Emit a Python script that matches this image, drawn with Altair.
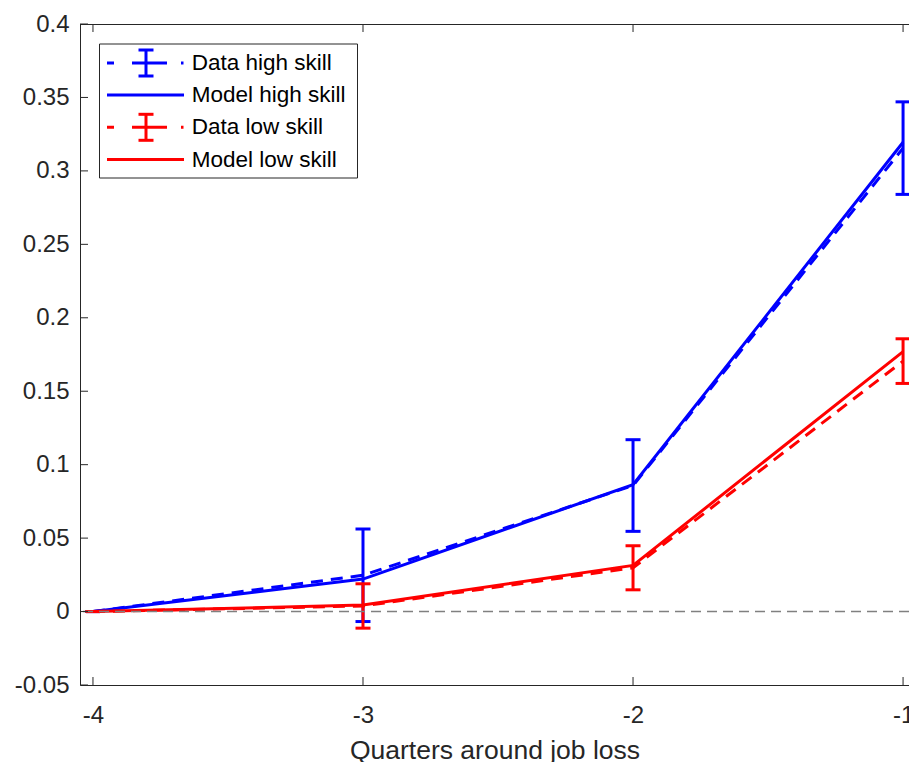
import altair as alt
import pandas as pd

# Quarters relative to job loss and the estimated effects
quarters = [-4, -3, -2, -1]

data_high = [0.0, 0.0247, 0.0858, 0.3155]
data_high_lo = [0.0, -0.0068, 0.0546, 0.2840]
data_high_hi = [0.0, 0.0562, 0.1170, 0.3470]
model_high = [0.0, 0.0221, 0.0864, 0.3195]

data_low = [0.0, 0.0038, 0.0298, 0.1705]
data_low_lo = [0.0, -0.0113, 0.0148, 0.1553]
data_low_hi = [0.0, 0.0189, 0.0448, 0.1857]
model_low = [0.0, 0.0044, 0.0314, 0.1770]

x_ticks = [-4, -3, -2, -1]
y_ticks = [-0.05, 0, 0.05, 0.1, 0.15, 0.2, 0.25, 0.3, 0.35, 0.4]
legend_labels = ["Data high skill", "Model high skill", "Data low skill", "Model low skill"]
x_title = "Quarters around job loss"

W, H = 829, 661
FONT = "Liberation Sans"
AX = "#262626"
BLUE, RED = "#0000ff", "#ff0000"
LW = 3
TICK_FS = 24

xs = alt.Scale(domain=[-4.048, -0.978], nice=False, zero=False)
ys = alt.Scale(domain=[-0.05, 0.4], nice=False, zero=False)

x_axis = alt.Axis(
    values=x_ticks, labelExpr="'' + datum.value", ticks=False, tickSize=0,
    domain=True, domainColor=AX, domainWidth=1, grid=False,
    labelFont=FONT, labelFontSize=TICK_FS, labelColor=AX, labelPadding=18,
    labelFlush=False, labelOverlap=False,
    title=x_title, titleFont=FONT, titleFontSize=26.5, titleFontWeight="normal",
    titleColor=AX, titleBaseline="alphabetic", titleY=73.5,
)
y_axis = alt.Axis(
    values=y_ticks, labelExpr="'' + datum.value", ticks=False, tickSize=0,
    domain=True, domainColor=AX, domainWidth=1, grid=False,
    labelFont=FONT, labelFontSize=TICK_FS, labelColor=AX, labelPadding=11,
    labelFlush=False, labelOverlap=False, title=None,
)

df = pd.DataFrame({
    "q": quarters,
    "dh": data_high, "dh_lo": data_high_lo, "dh_hi": data_high_hi, "mh": model_high,
    "dl": data_low, "dl_lo": data_low_lo, "dl_hi": data_low_hi, "ml": model_low,
})

X = alt.X("q:Q", scale=xs, axis=x_axis)


def Y(field):
    return alt.Y(f"{field}:Q", scale=ys, axis=y_axis)


def series(mean, lo, hi, model, color):
    dashed = alt.Chart(df).mark_line(color=color, strokeWidth=LW, strokeDash=[12, 8]).encode(x=X, y=Y(mean))
    stem = alt.Chart(df).mark_rule(color=color, strokeWidth=LW).encode(x=X, y=Y(lo), y2=f"{hi}:Q")
    cap_lo = alt.Chart(df).mark_tick(color=color, orient="horizontal", size=15, thickness=LW, opacity=1).encode(x=X, y=Y(lo))
    cap_hi = alt.Chart(df).mark_tick(color=color, orient="horizontal", size=15, thickness=LW, opacity=1).encode(x=X, y=Y(hi))
    solid = alt.Chart(df).mark_line(color=color, strokeWidth=LW).encode(x=X, y=Y(model))
    return [dashed, stem, cap_lo, cap_hi, solid]


layers = []
layers += series("dh", "dh_lo", "dh_hi", "mh", BLUE)
layers += series("dl", "dl_lo", "dl_hi", "ml", RED)

# dashed reference line at zero
zero_df = pd.DataFrame({"z": [0.0]})
layers.append(
    alt.Chart(zero_df).mark_rule(color="#808080", strokeWidth=1.4, strokeDash=[10, 6]).encode(y=Y("z"))
)

# inward-pointing axis ticks and the top frame line
yt_df = pd.DataFrame({"v": y_ticks})
xt_df = pd.DataFrame({"q": x_ticks})
layers.append(
    alt.Chart(yt_df).mark_tick(color=AX, orient="horizontal", size=8, thickness=1, opacity=1)
    .encode(y=Y("v"), x=alt.value(4))
)
for ypix in (4, H - 4):
    layers.append(
        alt.Chart(xt_df).mark_tick(color=AX, orient="vertical", size=8, thickness=1, opacity=1)
        .encode(x=X, y=alt.value(ypix))
    )
one = pd.DataFrame({"k": [0]})
layers.append(
    alt.Chart(one).mark_rule(color=AX, strokeWidth=1)
    .encode(x=alt.value(0), x2=alt.value(W), y=alt.value(0.5))
)

# legend box
layers.append(
    alt.Chart(one).mark_rect(fill="white", stroke=AX, strokeWidth=1)
    .encode(x=alt.value(19.5), x2=alt.value(277.5), y=alt.value(20), y2=alt.value(154))
)
row_y = [39, 71, 103.3, 135.5]
entry_colors = [BLUE, BLUE, RED, RED]
entry_is_data = [True, False, True, False]
for label, ry, col, is_data in zip(legend_labels, row_y, entry_colors, entry_is_data):
    if is_data:
        layers.append(
            alt.Chart(one).mark_rule(color=col, strokeWidth=LW, strokeDash=[7, 18, 35, 14, 2.5, 10])
            .encode(x=alt.value(27), x2=alt.value(104), y=alt.value(ry))
        )
        layers.append(
            alt.Chart(one).mark_rule(color=col, strokeWidth=LW)
            .encode(x=alt.value(66), y=alt.value(ry - 13), y2=alt.value(ry + 13))
        )
        for cy in (ry - 13, ry + 13):
            layers.append(
                alt.Chart(one).mark_rule(color=col, strokeWidth=LW)
                .encode(x=alt.value(58.5), x2=alt.value(73.5), y=alt.value(cy))
            )
    else:
        layers.append(
            alt.Chart(one).mark_rule(color=col, strokeWidth=LW)
            .encode(x=alt.value(27), x2=alt.value(104), y=alt.value(ry))
        )
    layers.append(
        alt.Chart(pd.DataFrame({"label": [label]}))
        .mark_text(align="left", baseline="middle", font=FONT, fontSize=22.5, color="black")
        .encode(x=alt.value(111.7), y=alt.value(ry), text="label:N")
    )

chart = (
    alt.layer(*layers)
    .properties(
        width=W, height=H,
        autosize=alt.AutoSizeParams(type="none"),
        padding={"left": 80, "top": 24, "right": 0, "bottom": 77},
        background="white",
    )
    .configure_view(stroke=None)
)

chart.save("out.html", embed_options={"renderer": "svg", "actions": False})
